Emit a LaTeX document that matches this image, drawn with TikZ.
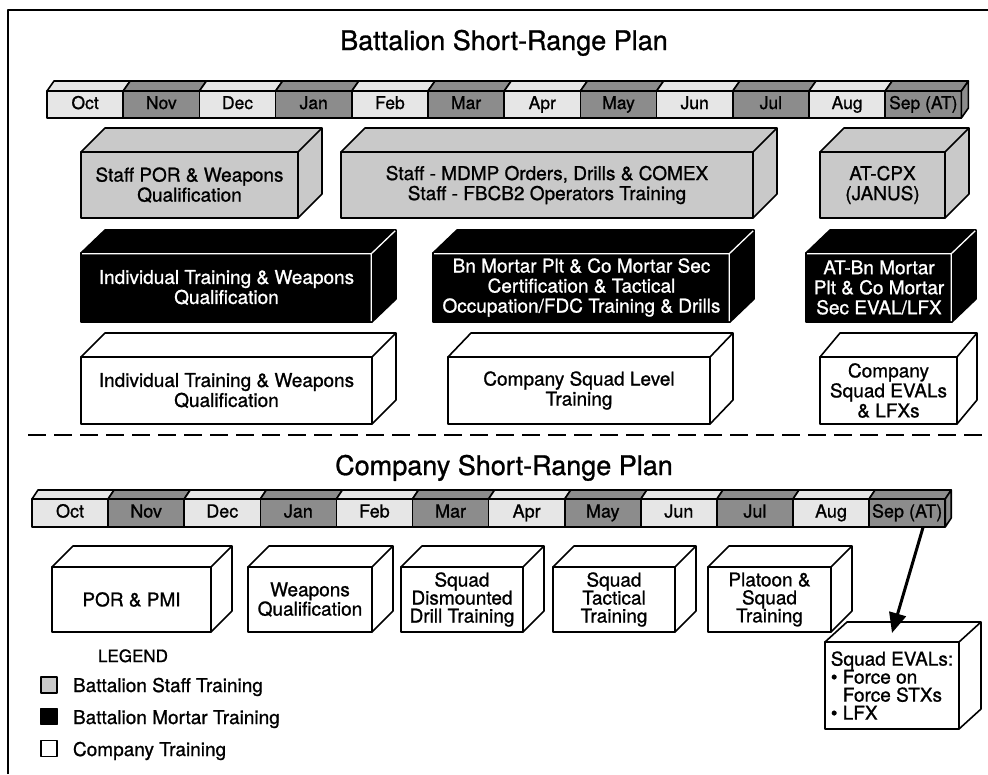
\documentclass[tikz,border=0pt]{standalone}
\usepackage{fontspec}
\setmainfont{TeX Gyre Heros}[FakeBold=1]
\usetikzlibrary{arrows.meta}
\definecolor{staffgray}{HTML}{C9C9C9}
\definecolor{monlight}{HTML}{E6E6E6}
\definecolor{mondark}{HTML}{8C8C8C}
\newcommand\blockdepth[4]{%
  \filldraw[fill=#2](#1.north west)--++(#3,-#4)--([shift={(#3,-#4)}]#1.north east)
  --([shift={(#3,-#4)}]#1.south east)--(#1.south east)--(#1.north east)--cycle;
  \draw(#1.north east)--++(#3,-#4);}
\begin{document}
\begin{tikzpicture}[x=1pt,y=-1pt,line width=1.6pt,line join=round,
    every node/.style={inner sep=0pt,outer sep=0pt,align=center,
      font=\fontsize{19}{20}\selectfont},
    staff/.style={draw,fill=staffgray,minimum height=66pt},
    mortar/.style={draw,fill=black,text=white,minimum height=69pt},
    coy/.style={draw,fill=white,minimum height=67pt},
    squadbox/.style={draw,fill=white,minimum height=65pt,
      font=\fontsize{19}{18}\selectfont},
    month/.style={draw,minimum width=76.2pt,minimum height=27pt,
      text height=12.5pt,text depth=3.5pt,font=\fontsize{17.5}{20}\selectfont},
    legbox/.style={draw,line width=1.2pt,minimum size=16pt}]
  \useasboundingbox(0,0)rectangle(988,774);
  \draw[line width=2.5pt](8,774)--(8,10)--(988,10);
  \node[anchor=base,font=\fontsize{27}{30}\selectfont](btitle)at(504,50)
    {Battalion Short-Range Plan};
  \foreach \m [count=\i] in {Oct,Nov,Dec,Jan,Feb,Mar,Apr,May,Jun,Jul,Aug,Sep (AT)}{
    \pgfmathsetmacro\cx{47+76.2*(\i-0.5)}
    \ifodd\i \def\mc{monlight}\else\def\mc{mondark}\fi
    \node[month,fill=\mc](bm\i)at(\cx,104.5){\m};
    \filldraw[fill=\mc](bm\i.north west)--++(7,-10)
      --([shift={(7,-10)}]bm\i.north east)--(bm\i.north east)--cycle;
  }
  \filldraw[fill=mondark](bm12.north east)--++(7,-10)
    --([shift={(7,-10)}]bm12.south east)--(bm12.south east)--cycle;
  \node[staff,minimum width=217pt](st1)at(189.5,185){Staff POR \& Weapons\\Qualification};
  \blockdepth{st1}{staffgray}{24}{24}
  \node[staff,minimum width=412pt](st2)at(547,185)
    {Staff - MDMP Orders, Drills \& COMEX\\Staff - FBCB2 Operators Training};
  \blockdepth{st2}{staffgray}{24}{24}
  \node[staff,minimum width=125pt](st3)at(882.5,185){AT-CPX\\(JANUS)};
  \blockdepth{st3}{staffgray}{24}{24}
  \node[mortar,minimum width=291pt](mo1)at(226.5,287.5)
    {Individual Training \& Weapons\\Qualification};
  \blockdepth{mo1}{black}{24}{23}
  \node[mortar,minimum width=297pt](mo2)at(581.5,287.5)
    {Bn Mortar Plt \& Co Mortar Sec\\Certification \& Tactical\\Occupation/FDC Training \& Drills};
  \blockdepth{mo2}{black}{24}{23}
  \node[mortar,minimum width=146pt](mo3)at(879,287.5)
    {AT-Bn Mortar\\Plt \& Co Mortar\\Sec EVAL/LFX};
  \blockdepth{mo3}{black}{24}{23}
  \foreach \b in {mo1,mo2,mo3}
    \draw[white,line width=1.3pt]([xshift=1pt,yshift=-0.8pt]\b.north west)
      --([xshift=-0.8pt,yshift=-0.8pt]\b.north east)--([xshift=-0.8pt,yshift=1pt]\b.south east)
      ([xshift=-0.8pt,yshift=-0.8pt]\b.north east)--++(24,-23);
  \node[coy,minimum width=291pt](co1)at(226.5,390.5)
    {Individual Training \& Weapons\\Qualification};
  \blockdepth{co1}{white}{24}{24}
  \node[coy,minimum width=262pt](co2)at(579,390.5){Company Squad Level\\Training};
  \blockdepth{co2}{white}{23}{24}
  \node[coy,minimum width=137pt](co3)at(888.5,390.5){Company\\Squad EVALs\\\& LFXs};
  \blockdepth{co3}{white}{20}{24}
  \draw[line width=2.5pt,dash pattern=on 18pt off 8pt](28,435)--(982,435);
  \node[anchor=base,font=\fontsize{27}{30}\selectfont](ctitle)at(504,475)
    {Company Short-Range Plan};
  \foreach \m [count=\i] in {Oct,Nov,Dec,Jan,Feb,Mar,Apr,May,Jun,Jul,Aug,Sep (AT)}{
    \pgfmathsetmacro\cx{32+76.1*(\i-0.5)}
    \ifodd\i \def\mc{monlight}\else\def\mc{mondark}\fi
    \node[month,fill=\mc,minimum width=76.1pt,minimum height=28pt,
      font=\fontsize{18}{20}\selectfont](cm\i)at(\cx,513){\m};
    \filldraw[fill=\mc](cm\i.north west)--++(6,-9)
      --([shift={(6,-9)}]cm\i.north east)--(cm\i.north east)--cycle;
  }
  \filldraw[fill=mondark](cm12.north east)--++(6,-9)
    --([shift={(6,-9)}]cm12.south east)--(cm12.south east)--cycle;
  \node[squadbox,minimum width=159pt](cp1)at(131.5,599.5){POR \& PMI};
  \blockdepth{cp1}{white}{21}{21}
  \node[squadbox,minimum width=124pt](cp2)at(310,599.5){Weapons\\Qualification};
  \blockdepth{cp2}{white}{21}{21}
  \node[squadbox,minimum width=122pt](cp3)at(462,599.5){Squad\\Dismounted\\Drill Training};
  \blockdepth{cp3}{white}{21}{21}
  \node[squadbox,minimum width=122pt](cp4)at(614,599.5){Squad\\Tactical\\Training};
  \blockdepth{cp4}{white}{21}{21}
  \node[squadbox,minimum width=123pt](cp5)at(769.5,599.5){Platoon \&\\Squad\\Training};
  \blockdepth{cp5}{white}{21}{21}
  \node[squadbox,minimum width=134pt,minimum height=87pt,align=left](cp6)at(892,685.5)
    {Squad EVALs:\\\textbullet\ Force on\\\hphantom{\textbullet\ }Force STXs\\\textbullet\ LFX};
  \blockdepth{cp6}{white}{22}{20}
  \draw[line width=3pt,-{Triangle[length=20pt,width=17pt]}]
    ([xshift=16pt]cm12.south)--([yshift=9pt]cp6.north);
  \node[anchor=base,font=\fontsize{17}{20}\selectfont](legend)at(133,662){LEGEND};
  \node[legbox,fill=staffgray](lg1)at(49,685){};
  \node[anchor=base west](lt1)at(73,692){Battalion Staff Training};
  \node[legbox,fill=black](lg2)at(49,716.5){};
  \node[anchor=base west](lt2)at(73,724){Battalion Mortar Training};
  \node[legbox,fill=white](lg3)at(49,748.5){};
  \node[anchor=base west](lt3)at(73,756){Company Training};
\end{tikzpicture}
\end{document}
